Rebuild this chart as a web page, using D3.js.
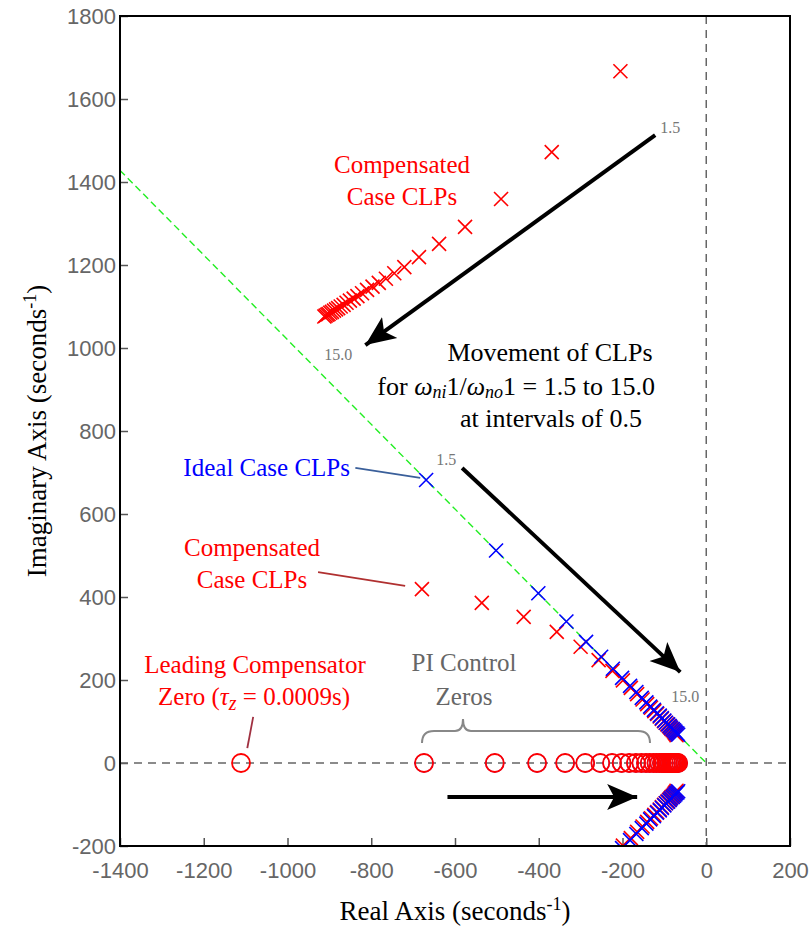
<!DOCTYPE html>
<html>
<head>
<meta charset="utf-8">
<script src="https://cdn.jsdelivr.net/npm/d3@7"></script>
<style>
  body { margin: 0; background: #fff; }
  svg { display: block; }
</style>
</head>
<body>
<div id="rootLocus"></div>
<script>
// omega_ni1/omega_no1 goes 1.5 .. 15.0 step 0.5 (28 cases)

// compensated case, upper pole pair (imag > 0)
var compUpperX = [-205, -369, -490, -576, -638, -686, -721, -745, -765, -782, -797, -810, -822, -833,
                  -842, -851, -859, -866, -873, -879, -884, -889, -894, -898, -902, -905, -909, -912];
var compUpperY = [1667, 1472, 1359, 1292, 1251, 1219, 1195, 1180, 1167, 1157, 1148, 1140, 1132, 1125,
                  1119, 1114, 1109, 1104, 1100, 1096, 1093, 1090, 1087, 1085, 1082, 1080, 1078, 1076];

// ideal case CLPs
var idealX = [-669, -502, -401, -334, -287, -251, -223, -201, -182, -167, -154, -143, -134, -125,
              -118, -111, -106, -100, -96, -91, -87, -84, -80, -77, -74, -72, -69, -67];
var idealY = [682, 512, 409, 341, 292, 256, 227, 205, 186, 171, 157, 146, 136, 128,
              120, 114, 108, 102, 97, 93, 89, 85, 82, 79, 76, 73, 71, 68];

// compensated case, lower pole pair
var compLowerX = [-679, -536, -436, -357, -300, -257, -224, -199, -180, -165, -152, -141, -132, -124,
                  -117, -111, -106, -101, -97, -93, -89, -86, -83, -80, -77, -75, -73, -71];
var compLowerY = [419, 386, 352, 316, 280, 248, 222, 199, 181, 166, 153, 142, 133, 125,
                  118, 112, 106, 101, 97, 93, 89, 86, 82, 79, 76, 73, 70, 67];

// PI control zeros (on the real axis)
var piZeros = [-674, -505, -404, -337, -289, -253, -225, -202, -184, -168, -155, -144, -135, -126,
               -119, -112, -106, -101, -96, -92, -88, -84, -81, -78, -75, -72, -70, -67];
var leadZero = [-1111];

// constant damping line
var dampX = [-1400, 0];
var dampY = [1428, 0];

var xTicks = [-1400, -1200, -1000, -800, -600, -400, -200, 0, 200];
var yTicks = [-200, 0, 200, 400, 600, 800, 1000, 1200, 1400, 1600, 1800];

var W = 811, H = 928;
var margin = { top: 16, right: 21, bottom: 82, left: 120 };

var svg = d3.select("#rootLocus")
    .append("svg")
    .attr("width", W)
    .attr("height", H);

var x = d3.scaleLinear().domain([-1400, 200]).range([margin.left, W - margin.right]);
var y = d3.scaleLinear().domain([-200, 1800]).range([H - margin.bottom, margin.top]);

svg.append("defs").append("clipPath")
    .attr("id", "plotClip")
    .append("rect")
    .attr("x", x(-1400)).attr("y", y(1800))
    .attr("width", x(200) - x(-1400)).attr("height", y(-200) - y(1800));

svg.select("defs").append("marker")
    .attr("id", "arrowHead")
    .attr("markerUnits", "userSpaceOnUse")
    .attr("markerWidth", 34).attr("markerHeight", 30)
    .attr("viewBox", "0 -15 34 30")
    .attr("refX", 30).attr("refY", 0)
    .attr("orient", "auto")
    .append("path")
    .attr("d", "M0,-13 L30,0 L0,13 L7,0 Z")
    .attr("fill", "black");

// axes (inward ticks, grey labels, plain hyphen minus)
var fmt = function (d) { return String(d) };
var xAxis = svg.append("g")
    .attr("transform", "translate(0," + y(-200) + ")")
    .call(d3.axisBottom(x).tickValues(xTicks).tickFormat(fmt)
        .tickSizeInner(-8).tickSizeOuter(0).tickPadding(16));
var yAxis = svg.append("g")
    .attr("transform", "translate(" + x(-1400) + ",0)")
    .call(d3.axisLeft(y).tickValues(yTicks).tickFormat(fmt)
        .tickSizeInner(-8).tickSizeOuter(0).tickPadding(4));
[xAxis, yAxis].forEach(function (g) {
    g.select(".domain").remove();
    g.selectAll(".tick line").attr("stroke", "#555").attr("stroke-width", 1.5);
    g.selectAll(".tick text")
        .attr("fill", "#666")
        .style("font-family", "'Liberation Sans', Arial, sans-serif")
        .style("font-size", "22px");
});

var plot = svg.append("g").attr("clip-path", "url(#plotClip)");

// damping line
plot.append("line")
    .attr("x1", x(dampX[0])).attr("y1", y(dampY[0]))
    .attr("x2", x(dampX[1])).attr("y2", y(dampY[1]))
    .attr("stroke", "#22ee22").attr("stroke-width", 1.4)
    .attr("stroke-dasharray", "7,4");

// real / imaginary axes
plot.append("line")
    .attr("x1", x(-1400)).attr("x2", x(200))
    .attr("y1", y(0)).attr("y2", y(0))
    .attr("stroke", "#666").attr("stroke-width", 1.5).attr("stroke-dasharray", "8,6");
plot.append("line")
    .attr("x1", x(0)).attr("x2", x(0))
    .attr("y1", y(1800)).attr("y2", y(-200))
    .attr("stroke", "#666").attr("stroke-width", 1.5).attr("stroke-dasharray", "8,6");

// zeros
plot.selectAll(".piZeroB").data(piZeros).enter().append("circle")
    .attr("cx", function (d) { return x(d) }).attr("cy", y(0)).attr("r", 9)
    .attr("fill", "none").attr("stroke", "#0000ff").attr("stroke-width", 1.2);
plot.selectAll(".piZero").data(piZeros).enter().append("circle")
    .attr("cx", function (d) { return x(d) }).attr("cy", y(0)).attr("r", 9)
    .attr("fill", "none").attr("stroke", "#ff0000").attr("stroke-width", 1.8);
plot.selectAll(".leadZero").data(leadZero).enter().append("circle")
    .attr("cx", function (d) { return x(d) }).attr("cy", y(0)).attr("r", 9)
    .attr("fill", "none").attr("stroke", "#ff0000").attr("stroke-width", 1.8);

function crosses(xs, ys, color) {
    var pts = [];
    xs.forEach(function (v, i) {
        pts.push([v, ys[i]]);
        pts.push([v, -ys[i]]);   // conjugate pole
    });
    var s = 7;
    plot.append("g").selectAll("path").data(pts).enter().append("path")
        .attr("d", function (d) {
            var cx = x(d[0]), cy = y(d[1]);
            return "M" + (cx - s) + "," + (cy - s) + "L" + (cx + s) + "," + (cy + s) +
                   "M" + (cx - s) + "," + (cy + s) + "L" + (cx + s) + "," + (cy - s);
        })
        .attr("stroke", color).attr("stroke-width", 1.6).attr("fill", "none");
}
crosses(compUpperX, compUpperY, "#ff0000");
crosses(compLowerX, compLowerY, "#ff0000");
crosses(idealX, idealY, "#0000ff");

// frame
svg.append("rect")
    .attr("x", x(-1400)).attr("y", y(1800))
    .attr("width", x(200) - x(-1400)).attr("height", y(-200) - y(1800))
    .attr("fill", "none").attr("stroke", "black").attr("stroke-width", 2);

// arrows
var arrows = [
    [[-122, 1513], [-814, 1007]],
    [[-583, 711], [-62, 219]],
    [[-618, -82], [-165, -82]]
];
arrows.forEach(function (a) {
    svg.append("line")
        .attr("x1", x(a[0][0])).attr("y1", y(a[0][1]))
        .attr("x2", x(a[1][0])).attr("y2", y(a[1][1]))
        .attr("stroke", "black").attr("stroke-width", 4)
        .attr("marker-end", "url(#arrowHead)");
});

// leader lines
var leaders = [
    [[-838, 711], [-683, 687], "#3a5f9a"],
    [[-927, 460], [-719, 427], "#b03030"],
    [[-1082, 111], [-1096, 36], "#a03040"]
];
leaders.forEach(function (l) {
    svg.append("line")
        .attr("x1", x(l[0][0])).attr("y1", y(l[0][1]))
        .attr("x2", x(l[1][0])).attr("y2", y(l[1][1]))
        .attr("stroke", l[2]).attr("stroke-width", 1.8);
});

// brace over PI zeros
svg.append("path")
    .attr("d", "M422,743 Q422,731 434,731 L455,731 Q463,731 463,719 Q463,731 471,731 L638,731 Q650,731 650,743")
    .attr("fill", "none").attr("stroke", "#888").attr("stroke-width", 2);

var serif = "'Liberation Serif', 'Times New Roman', serif";
function label(px, py, txt, color, size, anchor) {
    return svg.append("text")
        .attr("x", px).attr("y", py)
        .attr("text-anchor", anchor || "middle")
        .attr("fill", color)
        .style("font-family", serif)
        .style("font-size", size + "px")
        .text(txt);
}

label(402, 173, "Compensated", "#ff0000", 25);
label(402, 205, "Case CLPs", "#ff0000", 25);
label(252, 556, "Compensated", "#ff0000", 25);
label(252, 588, "Case CLPs", "#ff0000", 25);
label(350, 476, "Ideal Case CLPs", "#0000ff", 25, "end");
label(255, 673, "Leading Compensator", "#ff0000", 25);
label(464, 671, "PI Control", "#666", 25);
label(464, 705, "Zeros", "#666", 25);

var zt = label(254, 705, "", "#ff0000", 25);
zt.append("tspan").text("Zero (");
zt.append("tspan").style("font-style", "italic").text("τ");
zt.append("tspan").style("font-style", "italic").style("font-size", "20px").attr("dy", 5).text("z");
zt.append("tspan").attr("dy", -5).text(" = 0.0009s)");

label(550, 361, "Movement of CLPs", "black", 26);
var mt = label(655, 395, "", "black", 26, "end");
mt.append("tspan").text("for ");
mt.append("tspan").style("font-style", "italic").text("ω");
mt.append("tspan").style("font-style", "italic").style("font-size", "18px").attr("dy", 3).text("ni");
mt.append("tspan").attr("dy", -3).text("1/");
mt.append("tspan").style("font-style", "italic").text("ω");
mt.append("tspan").style("font-style", "italic").style("font-size", "18px").attr("dy", 3).text("no");
mt.append("tspan").attr("dy", -3).text("1 = 1.5 to 15.0");
label(551, 427, "at intervals of 0.5", "black", 26);

// arrow end labels
label(x(-86), y(1530) + 5, "1.5", "#777", 16);
label(x(-879), y(983) + 5, "15.0", "#777", 16);
label(x(-621), y(730) + 5, "1.5", "#777", 16);
label(x(-50), y(159) + 5, "15.0", "#777", 16);

// axis titles
var xt = label((x(-1400) + x(200)) / 2, 920, "", "black", 27);
xt.append("tspan").text("Real Axis (seconds");
xt.append("tspan").style("font-size", "18px").attr("dy", -10).text("-1");
xt.append("tspan").attr("dy", 10).text(")");

var yt = svg.append("text")
    .attr("transform", "translate(46," + ((y(-200) + y(1800)) / 2) + ") rotate(-90)")
    .attr("text-anchor", "middle")
    .style("font-family", serif)
    .style("font-size", "27px");
yt.append("tspan").text("Imaginary Axis (seconds");
yt.append("tspan").style("font-size", "18px").attr("dy", -10).text("-1");
yt.append("tspan").attr("dy", 10).text(")");
</script>
</body>
</html>
